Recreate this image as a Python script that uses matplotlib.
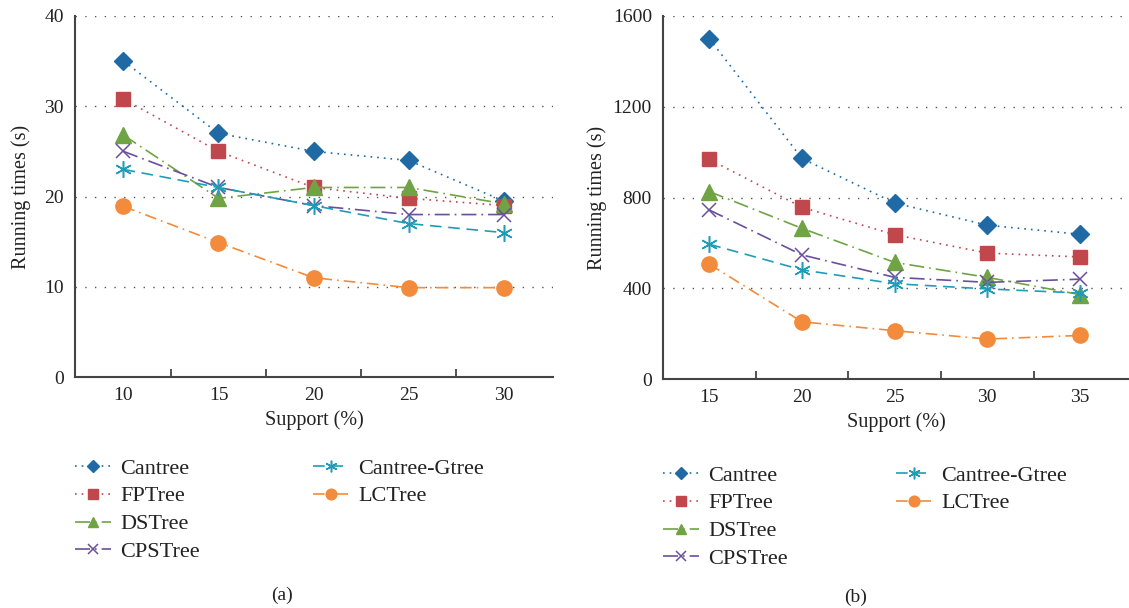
import matplotlib
matplotlib.use("Agg")
import matplotlib.pyplot as plt
from matplotlib.lines import Line2D

plt.rcParams['font.family'] = ['Liberation Serif', 'DejaVu Serif']

series = ["Cantree", "FPTree", "DSTree", "CPSTree", "Cantree-Gtree", "LCTree"]

support_a = [10, 15, 20, 25, 30]
cantree_a = [35, 27, 25, 24, 19.5]
fptree_a = [30.8, 25, 21, 19.8, 19]
dstree_a = [26.8, 19.8, 21, 21, 19.2]
cpstree_a = [25, 21, 19, 18, 18]
cgtree_a = [23, 21, 19, 17, 16]
lctree_a = [18.9, 14.9, 11, 9.9, 9.9]

support_b = [15, 20, 25, 30, 35]
cantree_b = [1500, 972, 776, 678, 638]
fptree_b = [968, 757, 636, 555, 538]
dstree_b = [826, 664, 514, 448, 372]
cpstree_b = [745, 547, 448, 426, 440]
cgtree_b = [594, 481, 420, 397, 379]
lctree_b = [506, 252, 213, 176, 192]

yticks_a = [0, 10, 20, 30, 40]
yticks_b = [0, 400, 800, 1200, 1600]

colors = ["#1f6aa5", "#c0474b", "#70a343", "#6a4f9c", "#1f9db8", "#f28b3b"]
markers = ["D", "s", "^", "x", (6, 2, 0), "o"]
msizes = [9, 10, 11, 10, 12, 11]
mews = [1, 1, 1, 1.1, 1.1, 1]
styles = [(0, (1, 3)), (0, (1, 3)), (0, (9, 3, 1, 3)), (0, (9, 3, 1, 3)),
          (0, (7, 4)), (0, (7, 3, 1, 3))]

W, H = 1129, 608
fig = plt.figure(figsize=(W / 100, H / 100), dpi=100)

def px_axes(x0, y0, x1, y1):
    return fig.add_axes([x0 / W, 1 - y1 / H, (x1 - x0) / W, (y1 - y0) / H])

spine_c = "#444444"
text_c = "#222222"

def style_axes(ax, xs, yt, xlim):
    ax.set_xlim(*xlim)
    ax.set_ylim(yt[0], yt[-1])
    ax.set_yticks(yt)
    ax.set_xticks(xs)
    mids = [(xs[i] + xs[i + 1]) / 2 for i in range(len(xs) - 1)]
    ax.set_xticks(mids, minor=True)
    ax.tick_params(axis='x', which='major', length=0, labelsize=14, pad=7, colors=text_c)
    ax.tick_params(axis='x', which='minor', length=6, direction='in', width=1.3, color=spine_c)
    ax.tick_params(axis='y', length=0, labelsize=14, pad=8, colors=text_c)
    for s in ['top', 'right']:
        ax.spines[s].set_visible(False)
    for s in ['left', 'bottom']:
        ax.spines[s].set_color(spine_c)
        ax.spines[s].set_linewidth(1.5)
    ax.grid(axis='y', linestyle=(0, (1, 6)), color='#555555', linewidth=1.0)
    ax.set_axisbelow(True)
    ax.set_xlabel("Support (%)", fontsize=14.5, labelpad=5, color=text_c)
    ax.set_ylabel("Running times (s)", fontsize=14.5, color=text_c)

ax1 = px_axes(75, 16, 553, 377)
ax2 = px_axes(663, 16, 1129, 379)

data_a = [cantree_a, fptree_a, dstree_a, cpstree_a, cgtree_a, lctree_a]
data_b = [cantree_b, fptree_b, dstree_b, cpstree_b, cgtree_b, lctree_b]

for ax, xs, data in [(ax1, support_a, data_a), (ax2, support_b, data_b)]:
    for i, name in enumerate(series):
        ax.plot(xs, data[i], linestyle=styles[i], color=colors[i], linewidth=1.2,
                marker=markers[i], markersize=msizes[i], markeredgewidth=mews[i],
                markeredgecolor=colors[i], markerfacecolor=colors[i], label=name,
                zorder=3)

style_axes(ax1, support_a, yticks_a, (7.45, 32.6))
style_axes(ax2, support_b, yticks_b, (12.5, 37.65))
ax1.yaxis.set_label_coords((31 - 75) / 478, 0.5)
ax2.yaxis.set_label_coords((607 - 663) / 466, 0.5)

def make_legend(idx, x, y):
    handles = [Line2D([], [], linestyle=styles[i], color=colors[i], linewidth=1.2,
                      marker=markers[i], markersize=msizes[i] * 0.7,
                      markeredgewidth=mews[i], markerfacecolor=colors[i],
                      markeredgecolor=colors[i]) for i in idx]
    labels = [series[i] for i in idx]
    leg = fig.legend(handles, labels, loc='upper left',
                     bbox_to_anchor=(x / W, 1 - y / H), frameon=False,
                     fontsize=16, handlelength=1.6, handletextpad=0.45,
                     labelspacing=0.33, borderaxespad=0, borderpad=0)
    for t in leg.get_texts():
        t.set_color(text_c)
    return leg

make_legend([0, 1, 2, 3], 75, 458)
make_legend([4, 5], 313, 458)
make_legend([0, 1, 2, 3], 663, 465)
make_legend([4, 5], 896, 465)

fig.text(282 / W, 1 - 595 / H, "(a)", ha='center', va='center', fontsize=14, color=text_c)
fig.text(856 / W, 1 - 597 / H, "(b)", ha='center', va='center', fontsize=14, color=text_c)

fig.savefig("out.png", dpi=100)
